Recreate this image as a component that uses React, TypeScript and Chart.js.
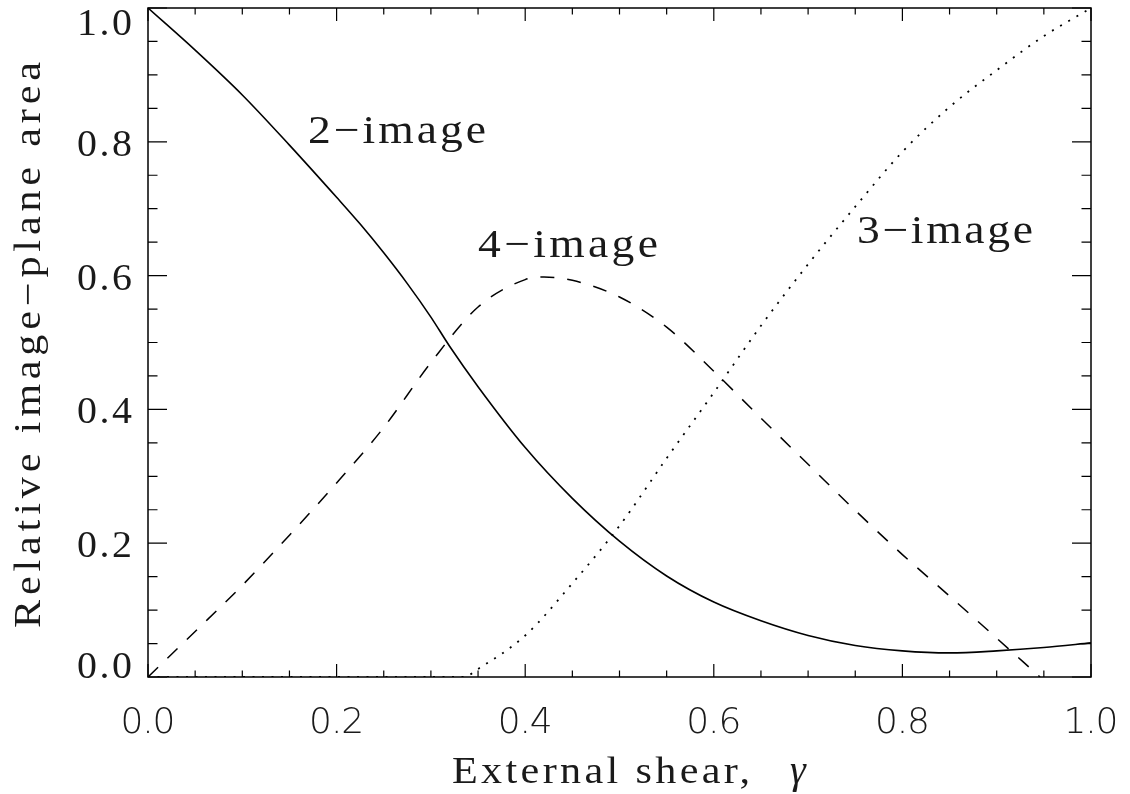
import { useEffect, useRef } from 'react';
import { Chart, registerables } from 'chart.js';

Chart.register(...registerables);

// ---- Data ----
const xTwoImage = [0, 0.05, 0.1, 0.15, 0.2, 0.225, 0.25, 0.275, 0.3, 0.32, 0.35, 0.4, 0.45, 0.5, 0.55, 0.6, 0.65, 0.7, 0.75, 0.8, 0.85, 0.9, 0.95, 1.0];
const yTwoImage = [1.0, 0.937, 0.870, 0.795, 0.717, 0.677, 0.634, 0.588, 0.538, 0.494, 0.434, 0.343, 0.267, 0.203, 0.151, 0.112, 0.084, 0.062, 0.047, 0.039, 0.036, 0.039, 0.044, 0.051];

const xFourImage = [0, 0.05, 0.1, 0.15, 0.2, 0.25, 0.3, 0.35, 0.4, 0.42, 0.45, 0.5, 0.55, 0.6, 0.65, 0.7, 0.75, 0.8, 0.85, 0.9, 0.946];
const yFourImage = [0, 0.068, 0.137, 0.212, 0.290, 0.373, 0.470, 0.553, 0.594, 0.598, 0.593, 0.568, 0.523, 0.457, 0.387, 0.318, 0.249, 0.183, 0.121, 0.058, 0];

const xThreeImage = [0, 0.335, 0.35, 0.4, 0.45, 0.5, 0.55, 0.6, 0.65, 0.7, 0.75, 0.8, 0.85, 0.9, 0.95, 1.0];
const yThreeImage = [0, 0, 0.012, 0.062, 0.140, 0.226, 0.327, 0.425, 0.525, 0.617, 0.703, 0.785, 0.852, 0.907, 0.958, 1.0];

const xTickValues = [0, 0.2, 0.4, 0.6, 0.8, 1.0];
const xTickLabels = ['0.0', '0.2', '0.4', '0.6', '0.8', '1.0'];
const yTickValues = [0, 0.2, 0.4, 0.6, 0.8, 1.0];
const yTickLabels = ['0.0', '0.2', '0.4', '0.6', '0.8', '1.0'];

const xTitle = 'External shear,';
const xTitleSymbol = 'γ';
const yTitle = 'Relative image−plane area';
const curveLabels = ['2−image', '4−image', '3−image'];

function spaced(
  ctx: CanvasRenderingContext2D,
  text: string,
  x: number,
  y: number,
  target: number,
  align: 'left' | 'center' | 'right',
  stretch = 1,
) {
  (ctx as any).letterSpacing = '0px';
  const w0 = ctx.measureText(text).width;
  const n = Array.from(text).length;
  const s = n > 1 ? (target / stretch - w0) / (n - 1) : 0;
  const w = target;
  const lx = align === 'left' ? x : align === 'center' ? x - w / 2 : x - w;
  ctx.save();
  ctx.translate(lx, y);
  ctx.scale(stretch, 1);
  (ctx as any).letterSpacing = s + 'px';
  ctx.textAlign = 'left';
  ctx.fillText(text, 0, 0);
  ctx.restore();
  (ctx as any).letterSpacing = '0px';
}

const decor = {
  id: 'idlDecor',
  afterDatasetsDraw(chart: any) {
    const { ctx, chartArea: a } = chart;
    const xs = chart.scales.x;
    const ys = chart.scales.y;
    ctx.save();
    ctx.strokeStyle = '#000';
    ctx.lineWidth = 1.5;
    ctx.strokeRect(a.left, a.top, a.right - a.left, a.bottom - a.top);

    ctx.lineWidth = 1.2;
    ctx.beginPath();
    for (let i = 0; i <= 20; i++) {
      const v = i * 0.05;
      const major = i % 4 === 0;
      const px = xs.getPixelForValue(v);
      const lx = major ? 13 : 6.5;
      ctx.moveTo(px, a.bottom); ctx.lineTo(px, a.bottom - lx);
      ctx.moveTo(px, a.top); ctx.lineTo(px, a.top + lx);
      const py = ys.getPixelForValue(v);
      const ly = major ? 19 : 9.5;
      ctx.moveTo(a.left, py); ctx.lineTo(a.left + ly, py);
      ctx.moveTo(a.right, py); ctx.lineTo(a.right - ly, py);
    }
    ctx.stroke();

    ctx.fillStyle = '#1a1a1a';
    ctx.textBaseline = 'alphabetic';

    // x tick labels
    ctx.font = '200 36px "DejaVu Sans"';
    xTickValues.forEach((v, i) => {
      const px = xs.getPixelForValue(v);
      spaced(ctx, xTickLabels[i], px, a.bottom + 56, 55, 'center');
    });

    // y tick labels
    ctx.font = '38px "Liberation Serif"';
    yTickValues.forEach((v, i) => {
      const py = ys.getPixelForValue(v);
      const base = Math.min(Math.max(py + 14, a.top + 27), a.bottom + 1);
      spaced(ctx, yTickLabels[i], a.left - 16, base, 55, 'right', 1.05);
    });

    // axis titles
    ctx.font = '37px "Liberation Serif"';
    spaced(ctx, xTitle, 452, 783, 298, 'left', 1.14);
    ctx.font = 'italic 40px "Liberation Serif"';
    ctx.textAlign = 'left';
    ctx.fillText(xTitleSymbol, 790, 783);

    ctx.save();
    ctx.font = '37px "Liberation Serif"';
    ctx.translate(40, 345);
    ctx.rotate(-Math.PI / 2);
    spaced(ctx, yTitle, 0, 0, 566, 'center', 1.14);
    ctx.restore();

    // curve labels
    ctx.font = '40px "Liberation Serif"';
    spaced(ctx, curveLabels[0], 308, 143, 178, 'left', 1.14);
    spaced(ctx, curveLabels[1], 478, 257, 180, 'left', 1.14);
    spaced(ctx, curveLabels[2], 857, 243, 176, 'left', 1.14);

    ctx.restore();
  },
};

export default function App() {
  const ref = useRef<HTMLCanvasElement>(null);
  useEffect(() => {
    const mk = (xa: number[], ya: number[]) => xa.map((x, i) => ({ x, y: ya[i] }));
    const chart = new Chart(ref.current as HTMLCanvasElement, {
      type: 'line',
      data: {
        datasets: [
          {
            label: curveLabels[0],
            data: mk(xTwoImage, yTwoImage),
            borderColor: '#000',
            borderWidth: 1.6,
            pointRadius: 0,
            fill: false,
            cubicInterpolationMode: 'monotone',
          },
          {
            label: curveLabels[1],
            data: mk(xFourImage, yFourImage),
            borderColor: '#000',
            borderWidth: 1.5,
            borderDash: [14, 13],
            pointRadius: 0,
            fill: false,
            cubicInterpolationMode: 'monotone',
          },
          {
            label: curveLabels[2],
            data: mk(xThreeImage, yThreeImage),
            borderColor: '#000',
            borderWidth: 1.8,
            borderDash: [2, 7.5],
            pointRadius: 0,
            fill: false,
            cubicInterpolationMode: 'monotone',
          },
        ],
      },
      options: {
        responsive: false,
        animation: false,
        devicePixelRatio: 1,
        layout: { padding: { left: 148, right: 39, top: 8, bottom: 117 } },
        scales: {
          x: { type: 'linear', min: 0, max: 1, display: false },
          y: { type: 'linear', min: 0, max: 1, display: false },
        },
        plugins: { legend: { display: false }, tooltip: { enabled: false } },
        events: [],
      },
      plugins: [decor],
    } as any);
    return () => chart.destroy();
  }, []);
  return (
    <div style={{ position: 'absolute', left: 0, top: 0, width: 1130, height: 794, background: '#fff' }}>
      <canvas ref={ref} width={1130} height={794} style={{ display: 'block', width: 1130, height: 794 }} />
    </div>
  );
}
